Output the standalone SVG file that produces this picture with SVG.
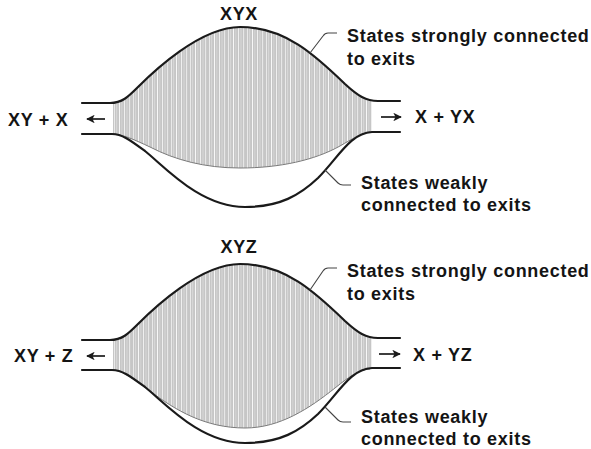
<svg xmlns="http://www.w3.org/2000/svg" width="591" height="449" viewBox="0 0 591 449">
<style>
.outline{fill:none;stroke:#1a1a1a;stroke-width:2.2;stroke-linecap:round;stroke-linejoin:round}
.shade{fill:url(#stripes);stroke:none}
.edge{fill:none;stroke:#7a7a7a;stroke-width:1}
.lbl{font-family:"Liberation Sans",Arial,sans-serif;font-weight:bold;font-size:18px;fill:#141414;letter-spacing:0.7px}
.leader{fill:none;stroke:#444;stroke-width:1.1}
.arrow{fill:none;stroke:#1a1a1a;stroke-width:1.7;marker-end:url(#ah)}
</style>
<defs>
<pattern id="stripes" patternUnits="userSpaceOnUse" x="113" y="0" width="19" height="10">
<rect width="19" height="10" fill="#c6c6c6"/>
<rect x="1" width="0.8" height="10" fill="#f2f2f2"/>
<rect x="3.5" width="0.6" height="10" fill="#e6e6e6"/>
<rect x="6" width="1" height="10" fill="#f7f7f7"/>
<rect x="8.6" width="0.6" height="10" fill="#e0e0e0"/>
<rect x="11" width="0.9" height="10" fill="#f4f4f4"/>
<rect x="13.7" width="0.6" height="10" fill="#e4e4e4"/>
<rect x="16.2" width="0.9" height="10" fill="#f0f0f0"/>
</pattern>
<marker id="ah" viewBox="0 0 10 10" refX="9" refY="5" markerWidth="5" markerHeight="5" markerUnits="strokeWidth" orient="auto">
<path d="M0,0 L10,5 L0,10 L2.5,5 Z" fill="#1a1a1a"/>
</marker>
</defs>
<rect width="591" height="449" fill="#ffffff"/>

<g id="diagram-top">
<path class="shade" d="M113,103 C122,103 128,97 138,87 C153,72 200,27 240,27 C285,27 315,55 345,84 C358,96 364,101 372,101 L372,132 C362,133 352,139 340,146 C315,160 280,168 240,168 C205,168 175,160 150,147 C135,140 122,134 113,134 Z"/>
<path class="edge" d="M113,134 C122,134 135,140 150,147 C175,160 205,168 240,168 C280,168 315,160 340,146 C352,139 362,133 370,132"/>
<path class="outline" d="M82,103 L110,103 C122,103 128,97 138,87 C153,72 200,27 240,27 C285,27 315,55 345,84 C358,96 366,101 378,101 L400,101"/>
<path class="outline" d="M82,134 L112,134 C122,134 130,140 145,151 C165,167 200,207 245,207 C280,207 300,195 318,178 C338,158 350,133 372,132 L400,132"/>
<text class="lbl" x="239" y="20" text-anchor="middle">XYX</text>
<text class="lbl" x="8" y="126">XY + X</text>
<text class="lbl" x="415" y="123">X + YX</text>
<text class="lbl" x="347" y="42">States strongly connected</text>
<text class="lbl" x="347" y="65">to exits</text>
<text class="lbl" x="361" y="189">States weakly</text>
<text class="lbl" x="361" y="211">connected to exits</text>
</g>

<g id="diagram-bottom">
<path class="shade" d="M113,340 C122,340 128,334 138,324 C153,309 200,264 240,264 C285,264 315,292 345,321 C358,333 364,338 372,338 L372,369 C362,369 350,376 335,388 C310,408 280,428 245,428 C205,428 175,410 150,391 C135,380 122,370 113,370 Z"/>
<path class="edge" d="M113,370 C122,370 135,380 150,391 C175,410 205,428 245,428 C280,428 310,408 335,388 C350,376 360,369 370,369"/>
<path class="outline" d="M82,340 L110,340 C122,340 128,334 138,324 C153,309 200,264 240,264 C285,264 315,292 345,321 C358,333 366,338 378,338 L400,338"/>
<path class="outline" d="M82,370 L112,370 C122,370 130,376 145,387 C165,403 200,443 245,443 C280,443 300,431 318,414 C338,394 350,369 372,368 L400,368"/>
<text class="lbl" x="239" y="253" text-anchor="middle">XYZ</text>
<text class="lbl" x="14" y="362">XY + Z</text>
<text class="lbl" x="413" y="361">X + YZ</text>
<text class="lbl" x="347" y="277">States strongly connected</text>
<text class="lbl" x="347" y="300">to exits</text>
<text class="lbl" x="361" y="423">States weakly</text>
<text class="lbl" x="361" y="445">connected to exits</text>
</g>

<g id="connectors">
<line class="arrow" x1="105" y1="119" x2="87" y2="119"/>
<line class="arrow" x1="381" y1="117" x2="401" y2="117"/>
<line class="arrow" x1="105" y1="356" x2="87" y2="356"/>
<line class="arrow" x1="379" y1="354" x2="400" y2="354"/>
<path class="leader" d="M337,33 L328,33 Q325,33 323,36 L310,53"/>
<path class="leader" d="M325,170 L338,183 Q340,185 343,185 L351,185"/>
<path class="leader" d="M337,268 L328,268 Q325,268 323,271 L310,290"/>
<path class="leader" d="M325,407 L338,420 Q340,422 343,422 L351,422"/>
</g>
</svg>
